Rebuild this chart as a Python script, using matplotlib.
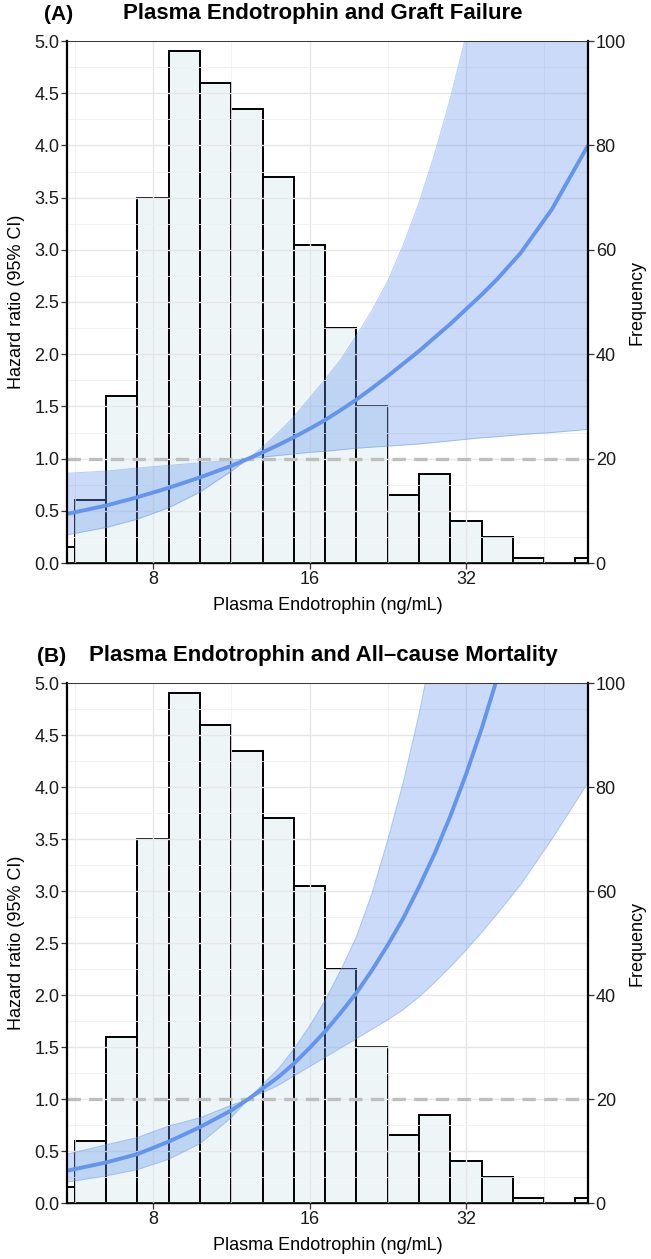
import numpy as np
import matplotlib.pyplot as plt

plt.rcParams['font.family'] = ['Liberation Sans', 'DejaVu Sans']

# histogram of plasma endotrophin (log2 ng/mL bins, same in both panels)
bin_edges = [2.3, 2.5, 2.7, 2.9, 3.1, 3.3, 3.5, 3.7, 3.9, 4.1, 4.3, 4.5, 4.7, 4.9, 5.1, 5.3, 5.5, 5.7, 5.9]
counts = [3, 12, 32, 70, 98, 92, 87, 74, 61, 45, 30, 13, 17, 8, 5, 1, 0, 1]

# (A) graft failure, x in log2(ng/mL)
a_x = [2.45, 2.7, 2.9, 3.1, 3.3, 3.5, 3.61, 3.7, 3.8, 3.9, 4.0, 4.1, 4.2, 4.3, 4.4, 4.5, 4.6,
       4.7, 4.8, 4.9, 5.0, 5.1, 5.2, 5.35, 5.55, 5.78]
a_hr = [0.47, 0.55, 0.63, 0.72, 0.82, 0.93, 1.0, 1.06, 1.13, 1.205, 1.285, 1.37, 1.465, 1.565, 1.675,
        1.79, 1.91, 2.03, 2.16, 2.29, 2.43, 2.57, 2.72, 2.97, 3.39, 4.0]
a_lo = [0.27, 0.34, 0.42, 0.53, 0.68, 0.88, 1.0, 1.015, 1.03, 1.045, 1.06, 1.07, 1.085, 1.10, 1.11,
        1.12, 1.13, 1.14, 1.155, 1.17, 1.185, 1.2, 1.21, 1.23, 1.25, 1.28]
a_hi = [0.86, 0.88, 0.91, 0.935, 0.96, 0.985, 1.0, 1.11, 1.25, 1.40, 1.58, 1.76, 1.95, 2.18, 2.42,
        2.70, 3.05, 3.45, 3.92, 4.45, 5.05, 5.7, 6.4, 7.5, 9.2, 12.0]

# (B) all-cause mortality
b_x = [2.45, 2.7, 2.9, 3.1, 3.3, 3.5, 3.61, 3.7, 3.8, 3.9, 4.0, 4.1, 4.2, 4.3, 4.4, 4.5, 4.6,
       4.7, 4.8, 4.9, 5.0, 5.1, 5.2, 5.35, 5.55, 5.78]
b_hr = [0.31, 0.39, 0.47, 0.59, 0.73, 0.89, 1.0, 1.10, 1.21, 1.34, 1.49, 1.65, 1.83, 2.02, 2.24,
        2.48, 2.74, 3.04, 3.36, 3.72, 4.12, 4.56, 5.05, 5.9, 7.2, 9.1]
b_lo = [0.20, 0.26, 0.32, 0.42, 0.57, 0.82, 1.0, 1.06, 1.13, 1.22, 1.31, 1.40, 1.49, 1.58, 1.67,
        1.76, 1.86, 1.98, 2.12, 2.27, 2.43, 2.60, 2.78, 3.06, 3.5, 4.04]
b_hi = [0.47, 0.56, 0.63, 0.74, 0.82, 0.94, 1.0, 1.14, 1.29, 1.48, 1.70, 1.95, 2.24, 2.56, 2.98,
        3.49, 4.05, 4.70, 5.45, 6.3, 7.2, 8.2, 9.4, 11.5, 15.0, 20.0]

panels = [
    ('(A)', 'Plasma Endotrophin and Graft Failure', a_x, a_hr, a_lo, a_hi, 41, 563, 44),
    ('(B)', 'Plasma Endotrophin and All\u2013cause Mortality', b_x, b_hr, b_lo, b_hi, 683, 1203, 37),
]

W, H = 651, 1259
fig = plt.figure(figsize=(W / 100, H / 100), dpi=100)
blue = '#6495ED'

for tag, title, x, hr, lo, hi, top, bot, tag_x in panels:
    ax = fig.add_axes([67 / W, 1 - bot / H, 521 / W, (bot - top) / H])
    ax2 = ax.twinx()
    ax.set_zorder(ax2.get_zorder() + 1)
    ax.patch.set_visible(False)

    ax2.bar(bin_edges[:-1], counts, width=0.2, align='edge', color='#EEF5F7',
            edgecolor='black', linewidth=1.4)
    ax2.set_ylim(0, 100)
    ax2.set_yticks(range(0, 101, 20))

    ax.fill_between(x, lo, hi, color=blue, alpha=0.34, linewidth=0)
    ax.plot(x, lo, color=blue, alpha=0.45, lw=0.7)
    ax.plot(x, hi, color=blue, alpha=0.45, lw=0.7)
    ax.axhline(1.0, color='#BEBEBE', lw=2.4, dashes=(4, 2.5))
    ax.plot(x, hr, color=blue, lw=2.8, solid_capstyle='butt', solid_joinstyle='round')

    ax.set_xlim(2.45, 5.78)
    ax.set_ylim(0, 5)
    ax.set_xticks([3, 4, 5])
    ax.set_xticklabels(['8', '16', '32'])
    ax.set_xticks([2.5, 3.5, 4.5, 5.5], minor=True)
    ax.set_yticks(np.arange(0, 5.01, 0.5))
    ax.set_yticks(np.arange(0.25, 5, 0.5), minor=True)
    ax.yaxis.set_major_formatter(plt.FormatStrFormatter('%.1f'))
    ax.set_axisbelow(True)
    ax.grid(which='major', color='#E6E6E6', lw=1.0)
    ax.grid(which='minor', color='#F0F0F0', lw=0.6)

    for a in (ax, ax2):
        a.tick_params(which='major', labelsize=13, length=4, width=0.9,
                      color='#333333', labelcolor='#1A1A1A', pad=1.5)
        a.tick_params(which='minor', length=0)
    for s in ax2.spines.values():
        s.set_visible(False)
    ax.spines['left'].set_linewidth(1.6)
    ax.spines['right'].set_linewidth(1.6)
    ax.spines['bottom'].set_linewidth(1.0)
    ax.spines['top'].set_linewidth(0.7)
    ax.spines['top'].set_color('#333333')

    ax.set_ylabel('Hazard ratio (95% CI)', fontsize=13, labelpad=7)
    ax2.set_ylabel('Frequency', fontsize=13, labelpad=2)
    ax.set_xlabel('Plasma Endotrophin (ng/mL)', fontsize=13, labelpad=7)

    fig.text(tag_x / W, 1 - (top - 27) / H, tag, fontsize=15, fontweight='bold',
             ha='left', va='center')
    fig.text(323 / W, 1 - (top - 27) / H, title, fontsize=16, fontweight='bold',
             ha='center', va='center')

fig.savefig('out.png', dpi=100)
